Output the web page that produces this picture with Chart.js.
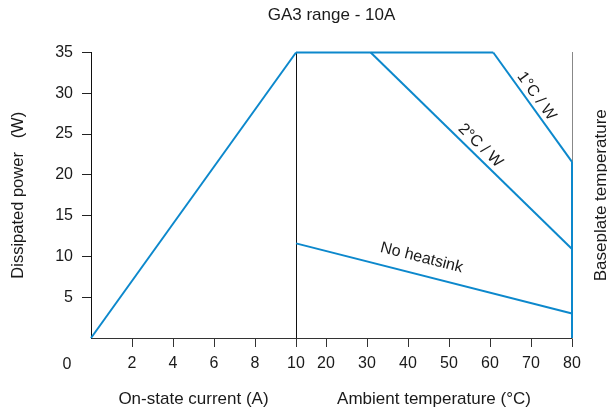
<!DOCTYPE html>
<html>
<head>
<meta charset="utf-8">
<script src="https://cdn.jsdelivr.net/npm/chart.js@4/dist/chart.umd.min.js"></script>
<style>
  html, body { margin: 0; padding: 0; background: #ffffff; }
  #wrap { width: 607px; height: 416px; }
</style>
</head>
<body>
<div id="wrap"><canvas id="derating"></canvas></div>
<script>
// tick values
const powerTicks = [0, 5, 10, 15, 20, 25, 30, 35];
const currentTicks = [2, 4, 6, 8, 10];
const ambientTicks = [10, 20, 30, 40, 50, 60, 70, 80];

// left panel: power vs on-state current
const currentA = [0, 10];
const currentPower = [0, 35];

// right panel: power vs ambient temperature
const ratedTemp = [10, 60.8];
const ratedPower = [35, 35];
const sink1Temp = [60.8, 80];
const sink1Power = [35, 21.6];
const sink2Temp = [30.9, 80];
const sink2Power = [35, 10.9];
const noSinkTemp = [10, 80];
const noSinkPower = [11.6, 3.0];
const baseTemp = [80, 80];
const basePower = [0, 21.6];

const curveNames = ['1°C / W', '2°C / W', 'No heatsink'];

const BLUE = '#0c88cc';
const INK = '#1a1a1a';
const FONT = "'Liberation Sans', Arial, sans-serif";

// ambient axis: the 10..20 step is squeezed, 20..80 is linear
class SplitScale extends Chart.LinearScale {
    static id = 'split';
    static defaults = { ticks: { callback: Chart.Ticks.formatters.numeric } };

    toDecimal(v) {
        const brk = 20, share = 30 / 276;
        if (v <= brk) return (v - this.min) / (brk - this.min) * share;
        return share + (v - brk) / (this.max - brk) * (1 - share);
    }
    getPixelForValue(v) {
        return v === null ? NaN : this.getPixelForDecimal(this.toDecimal(v));
    }
    getValueForPixel(p) {
        const d = this.getDecimalForPixel(p);
        const brk = 20, share = 30 / 276;
        if (d <= share) return this.min + d / share * (brk - this.min);
        return brk + (d - share) / (1 - share) * (this.max - brk);
    }
}
Chart.register(SplitScale);

const pts = (xs, ys) => xs.map((x, i) => ({ x, y: ys[i] }));

const curve = (xs, ys, xAxisID) => ({
    data: pts(xs, ys),
    xAxisID,
    yAxisID: 'y',
    showLine: true,
    borderColor: BLUE,
    borderWidth: 2,
    pointRadius: 0,
    fill: false,
    clip: false,
});

// text that Chart.js cannot place by itself
const extraText = {
    id: 'extraText',
    afterDatasetsDraw(chart) {
        const { ctx, chartArea, scales } = chart;
        ctx.save();
        ctx.fillStyle = INK;
        ctx.textBaseline = 'middle';
        ctx.textAlign = 'center';

        // shared origin label
        ctx.font = `16px ${FONT}`;
        ctx.fillText('0', chartArea.left - 24, chartArea.bottom + 27);

        // right hand axis title
        ctx.save();
        ctx.font = `17px ${FONT}`;
        ctx.translate(chartArea.right + 29, (chartArea.top + chartArea.bottom) / 2);
        ctx.rotate(-Math.PI / 2);
        ctx.fillText('Baseplate temperature', 0, 0);
        ctx.restore();

        // curve names, laid along their lines
        ctx.font = `16px ${FONT}`;
        const notes = [
            { ds: 2, at: 0.45, lift: 9.5 },
            { ds: 3, at: 0.51, lift: 10 },
            { ds: 4, at: 0.44, lift: 17 },
        ];
        notes.forEach((n, i) => {
            const d = chart.data.datasets[n.ds].data;
            const xs = scales.xb;
            const x0 = xs.getPixelForValue(d[0].x), y0 = scales.y.getPixelForValue(d[0].y);
            const x1 = xs.getPixelForValue(d[1].x), y1 = scales.y.getPixelForValue(d[1].y);
            const ang = Math.atan2(y1 - y0, x1 - x0);
            const cx = x0 + (x1 - x0) * n.at + Math.sin(ang) * n.lift;
            const cy = y0 + (y1 - y0) * n.at - Math.cos(ang) * n.lift;
            ctx.save();
            ctx.translate(cx, cy);
            ctx.rotate(ang);
            ctx.fillText(curveNames[i], 0, 0);
            ctx.restore();
        });
        ctx.restore();
    }
};

const setTicks = (vals) => (scale) => { scale.ticks = vals.map(v => ({ value: v })); };

new Chart(document.getElementById('derating'), {
    type: 'scatter',
    data: {
        datasets: [
            curve(currentA, currentPower, 'xa'),
            curve(ratedTemp, ratedPower, 'xb'),
            curve(sink1Temp, sink1Power, 'xb'),
            curve(sink2Temp, sink2Power, 'xb'),
            curve(noSinkTemp, noSinkPower, 'xb'),
            curve(baseTemp, basePower, 'xb'),
        ]
    },
    options: {
        responsive: true,
        maintainAspectRatio: false,
        animation: false,
        events: [],
        layout: { padding: 0 },
        plugins: {
            legend: { display: false },
            tooltip: { enabled: false },
            title: {
                display: true,
                fullSize: false,
                text: 'GA3 range - 10A',
                color: INK,
                font: { family: FONT, size: 17, weight: 'normal' },
                padding: { top: 5, bottom: 27.1 },
            },
        },
        scales: {
            xa: {
                type: 'linear',
                position: 'bottom',
                stack: 'x',
                stackWeight: 205,
                min: 0,
                max: 10,
                afterBuildTicks: setTicks(currentTicks),
                afterFit: (s) => { s.height = 78; },
                grid: { drawOnChartArea: false, tickLength: 9, tickColor: '#333' },
                border: { color: '#333', width: 1 },
                ticks: {
                    autoSkip: false, maxRotation: 0, padding: 7,
                    color: INK, font: { family: FONT, size: 16 },
                },
                title: {
                    display: true, text: 'On-state current (A)', color: INK,
                    font: { family: FONT, size: 17 }, padding: { top: 0, bottom: 6 },
                },
            },
            xb: {
                type: 'split',
                position: 'bottom',
                stack: 'x',
                stackWeight: 276,
                min: 10,
                max: 80,
                afterBuildTicks: setTicks(ambientTicks),
                afterFit: (s) => { s.height = 78; },
                grid: {
                    drawOnChartArea: true,
                    tickLength: 9,
                    tickColor: '#333',
                    color: (c) => (c.tick && c.tick.value === 10 ? '#111' : 'rgba(0,0,0,0)'),
                },
                border: { color: '#333', width: 1 },
                ticks: {
                    autoSkip: false, maxRotation: 0, padding: 7,
                    color: INK, font: { family: FONT, size: 16 },
                    callback: (v) => (v === 10 ? '' : v),
                },
                title: {
                    display: true, text: 'Ambient temperature (°C)', color: INK,
                    font: { family: FONT, size: 17 }, padding: { top: 0, bottom: 6 },
                },
            },
            y: {
                type: 'linear',
                position: 'left',
                min: 0,
                max: 35,
                afterBuildTicks: setTicks(powerTicks),
                afterFit: (s) => { s.width = 91; },
                grid: {
                    drawOnChartArea: false,
                    tickLength: 9,
                    tickColor: (c) => (c.tick && c.tick.value === 0 ? 'rgba(0,0,0,0)' : '#222'),
                },
                border: { color: '#111', width: 1 },
                ticks: {
                    padding: 9,
                    color: INK, font: { family: FONT, size: 16 },
                    callback: (v) => (v === 0 ? '' : v),
                },
                title: {
                    display: true, text: 'Dissipated power   (W)', color: INK,
                    font: { family: FONT, size: 16.5 }, padding: { top: 9, bottom: 0 },
                },
            },
            y2: {
                type: 'linear',
                position: 'right',
                min: 0,
                max: 35,
                afterFit: (s) => { s.width = 35; },
                grid: { drawOnChartArea: false, drawTicks: false },
                border: { color: '#888', width: 1 },
                ticks: { display: false },
            },
        }
    },
    plugins: [extraText]
});
</script>
</body>
</html>
